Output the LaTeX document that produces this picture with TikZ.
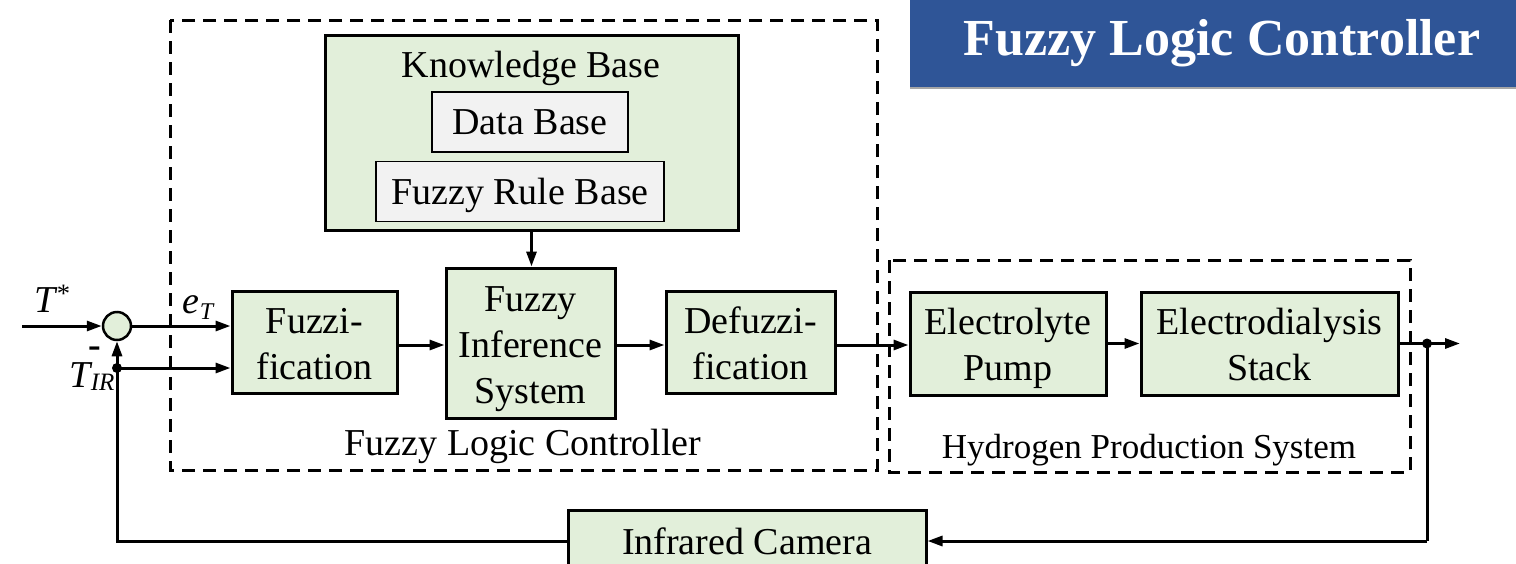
\documentclass[tikz,border=0pt]{standalone}
\usepackage{fontspec}
\setmainfont{Liberation Serif}
\usetikzlibrary{arrows.meta,calc}
\definecolor{blockfill}{RGB}{226,239,218}
\definecolor{subfill}{RGB}{242,242,242}
\definecolor{banner}{RGB}{47,85,151}
% fixed-height line strut so every block line sits on the same grid
\newcommand\bst{\rule[-9pt]{0pt}{46pt}}
\tikzset{
  txt/.style={font=\fontsize{38}{46}\selectfont},
  block/.style={draw, line width=3pt, fill=blockfill, align=center, inner sep=0pt, txt},
  subblock/.style={draw, line width=1.5pt, fill=subfill, align=center, inner sep=0pt, txt, text height=25pt, text depth=0pt},
  region/.style={draw, line width=3pt, dash pattern=on 13pt off 8pt},
  sig/.style={line width=3pt, -{Triangle[length=15pt,width=10pt]}},
  wire/.style={line width=3pt},
  dot/.style={circle, fill=black, inner sep=0pt, minimum size=10pt},
  sym/.style={font=\fontsize{38}{46}\selectfont\itshape, inner sep=0pt},
}
\begin{document}
\begin{tikzpicture}[x=1pt, y=-1pt]
\useasboundingbox (0,0) rectangle (1516,563);
\clip (0,0) rectangle (1516,563);

% title banner
\fill[black!35] (910,2) rectangle (1516,89);
\fill[banner] (910,0) rectangle (1516,87);
\node[font=\fontsize{52}{60}\selectfont\bfseries, text=white, anchor=base] (title) at (1222,55) {Fuzzy Logic Controller};

% dashed regions
\draw[region] (170,20) rectangle (877,470);
\draw[region] (889,260) rectangle (1410,472);
\node[txt, anchor=base] (flclabel) at (523,455) {Fuzzy Logic Controller};
\node[font=\fontsize{35}{42}\selectfont, anchor=base] (hpslabel) at (1149,458) {Hydrogen Production System};

% knowledge base
\node[block, minimum width=413pt, minimum height=195pt] (kb) at (531.5,132.5) {};
\node[txt, anchor=base] (kbtitle) at (531,77) {Knowledge Base};
\node[subblock, minimum width=196pt, minimum height=60pt] (db) at (530,122) {Data Base};
\node[subblock, minimum width=288pt, minimum height=60pt] (frb) at (520,191.5) {Fuzzy Rule Base};

% main blocks
\node[block, minimum width=165pt, minimum height=102pt] (fuzz) at (314.5,342) {\bst Fuzzi-\\\bst fication};
\node[block, minimum width=169pt, minimum height=150pt] (fis) at (530.5,343) {\bst Fuzzy\\\bst Inference\\\bst System};
\node[block, minimum width=169pt, minimum height=102pt] (defuzz) at (750.5,342) {\bst Defuzzi-\\\bst fication};
\node[block, minimum width=196pt, minimum height=103pt] (ep) at (1008,343.5) {\bst Electrolyte\\\bst Pump};
\node[block, minimum width=257pt, minimum height=103pt] (eds) at (1269.5,343.5) {\bst Electrodialysis\\\bst Stack};
\node[block, minimum width=358pt, minimum height=62pt] (cam) at (747,541) {Infrared Camera};

% summing junction
\node[circle, draw, line width=2.5pt, fill=blockfill, minimum size=28pt, inner sep=0pt] (sum) at (117,326) {};
\coordinate (tin) at (22,326);
\coordinate (jfb) at (117,368);
\coordinate (jout) at (1427,343.5);
\coordinate (yout) at (1460,343.5);
\coordinate (cornerR) at (1427,541);

% signal labels
\node[sym, anchor=base] (tstar) at (52,312) {T\textsuperscript{*}};
\node[sym, anchor=base] (eT) at (198,313) {e\raisebox{-6pt}{\fontsize{24}{26}\selectfont T}};
\node[font=\fontsize{38}{46}\selectfont\bfseries, inner sep=0pt, anchor=base] (minus) at (95,357) {-};
\node[sym, anchor=base] (tir) at (92,387) {T\raisebox{-3pt}{\fontsize{25}{27}\selectfont IR}};

% signal flow
\draw[sig] (tin) -- (sum.west);
\draw[sig] (sum.east) -- (sum -| fuzz.west);
\draw[sig] (jfb) -- (jfb -| fuzz.west);
\draw[sig] (kb.south) -- (kb.south |- fis.north);
\draw[sig] ($(fuzz.east)+(0,3)$) -- ($(fuzz.east -| fis.west)+(0,3)$);
\draw[sig] ($(fis.east)+(0,2)$) -- ($(fis.east -| defuzz.west)+(0,2)$);
\draw[sig] ($(defuzz.east)+(0,3)$) -- ($(defuzz.east -| ep.west)+(0,3)$);
\draw[sig] (ep.east) -- (ep.east -| eds.west);
\draw[sig] (eds.east) -- (yout);
\draw[wire] (jout) -- (cornerR);
\draw[sig] (cornerR) -- (cam.east);
\draw[sig] (cam.west) -- (cam.west -| sum) -- (sum.south);
\node[dot] (dfb) at (jfb) {};
\node[dot] (dout) at (jout) {};
\end{tikzpicture}
\end{document}
